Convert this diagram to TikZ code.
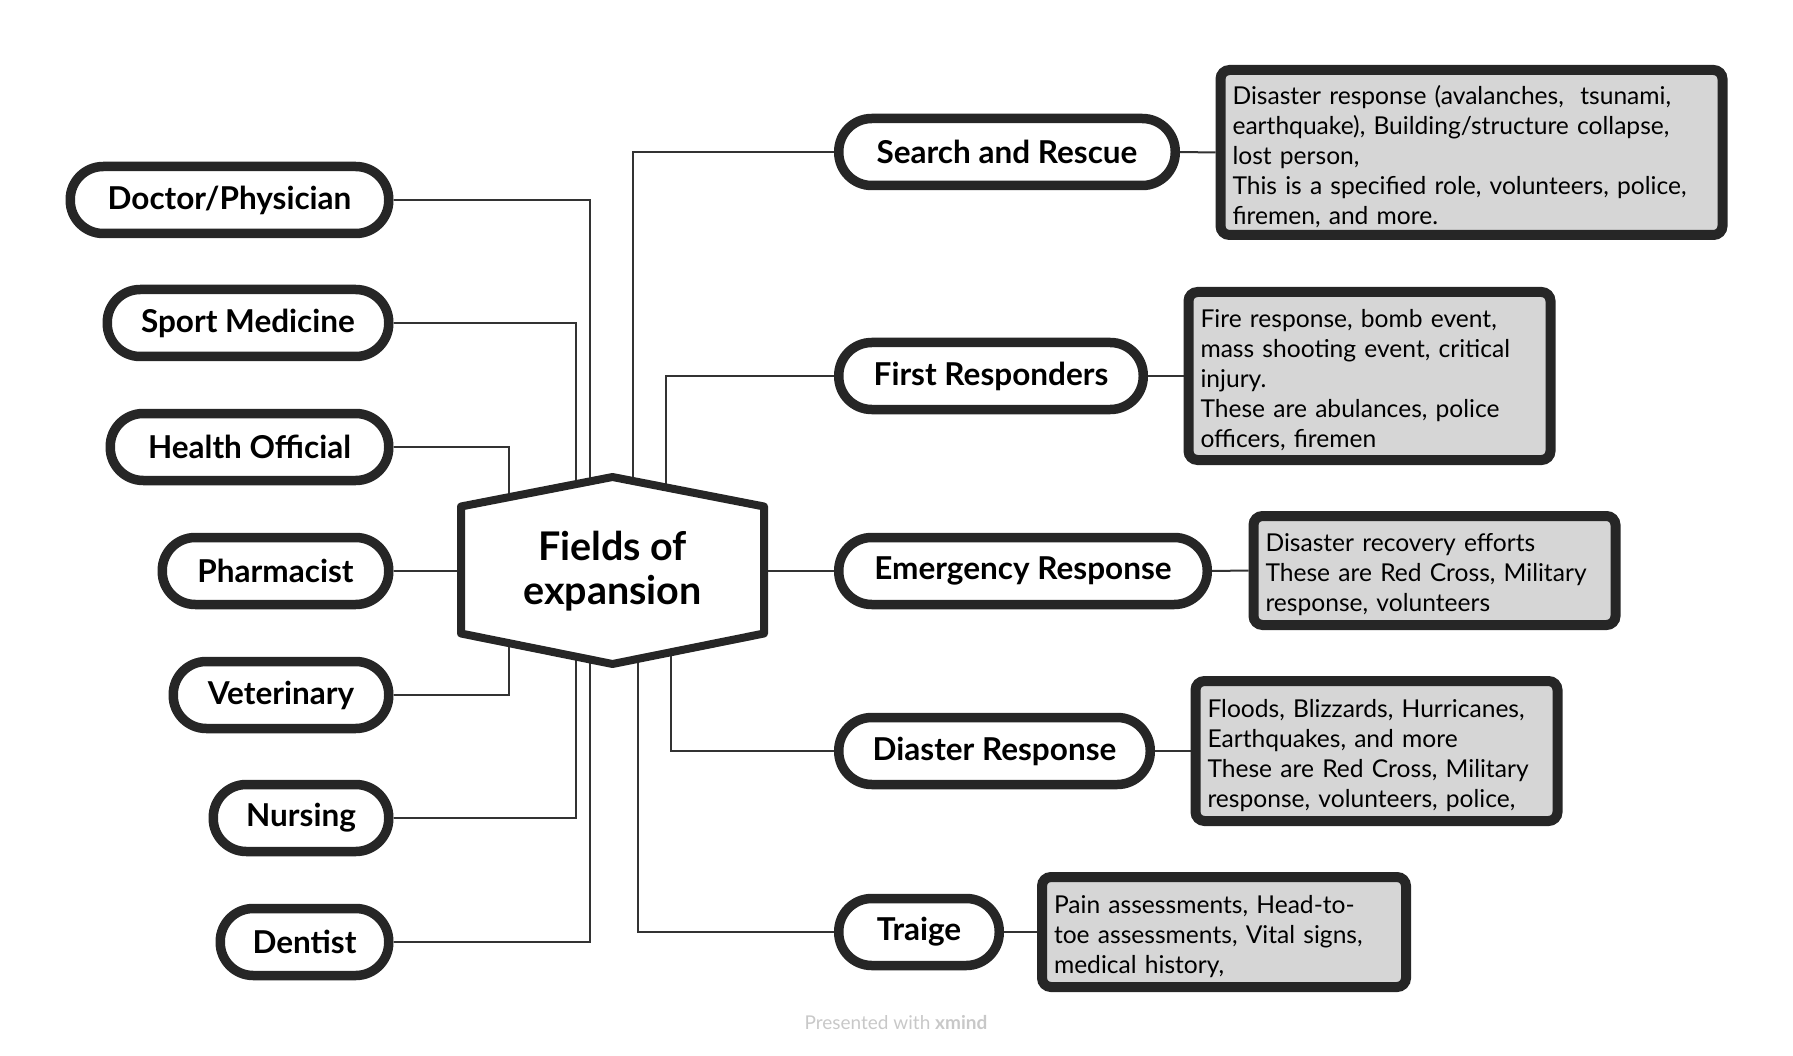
\documentclass[tikz,border=0pt]{standalone}
\usepackage{fontspec}
\setmainfont{Lato}
\usetikzlibrary{calc}
\definecolor{ink}{HTML}{262626}
\definecolor{wire}{HTML}{333333}
\definecolor{note}{HTML}{D6D6D6}
\definecolor{faint}{HTML}{C8C8C8}
\pgfdeclarelayer{bg}
\pgfsetlayers{bg,main}
\tikzset{
  pill/.style={draw=ink, fill=white, line width=9.5pt, rounded corners=33pt,
    minimum height=67pt, inner sep=0pt, font=\fontsize{31.5}{36}\selectfont\bfseries},
  notebox/.style={draw=ink, fill=note, line width=10pt, rounded corners=9pt,
    anchor=west, align=left, inner xsep=12pt, inner ysep=0pt,
    font=\fontsize{24.6}{30}\selectfont, execute at begin node={\rule{0pt}{27pt}}},
  link/.style={draw=wire, line width=2pt},
  hexa/.style={draw=ink, fill=white, line width=8pt, line join=round},
  hubtext/.style={align=center, font=\fontsize{39.5}{44}\selectfont\bfseries},
}

\begin{document}
\begin{tikzpicture}[x=1pt, y=-1pt]
  \useasboundingbox (0,0) rectangle (1793,1056);

  % centre
  \node[hubtext] (hub) at (612.5,571) {Fields of\\expansion};

  % left branch
  \node[pill, minimum width=318.5pt, anchor=east] (doc)    at (393.5,200) {Doctor/Physician};
  \node[pill, minimum width=281.5pt, anchor=east] (sport)  at (393.5,323) {Sport Medicine};
  \node[pill, minimum width=278.5pt, anchor=east] (health) at (393.5,447) {Health Official};
  \node[pill, minimum width=226.5pt, anchor=east] (pharm)  at (393.5,571) {Pharmacist};
  \node[pill, minimum width=215.5pt, anchor=east] (vet)    at (393.5,695) {Veterinary};
  \node[pill, minimum width=175.5pt, anchor=east] (nurse)  at (393.5,818) {Nursing};
  \node[pill, minimum width=168.5pt, anchor=east] (dent)   at (393.5,942) {Dentist};

  % right branch
  \node[pill, minimum width=336.5pt, anchor=west] (search) at (834,152) {Search and Rescue};
  \node[pill, minimum width=304.5pt, anchor=west] (first)  at (834,376) {First Responders};
  \node[pill, minimum width=368.5pt, anchor=west] (emerg)  at (834,571) {Emergency Response};
  \node[pill, minimum width=311.5pt, anchor=west] (disas)  at (834,751) {Diaster Response};
  \node[pill, minimum width=160.5pt, anchor=west] (triage) at (834,932) {Traige};

  % notes
  \node[notebox, text width=478pt, minimum height=165pt] (searchnote) at (1215.5,152.5)
    {Disaster response (avalanches,~ tsunami,\\earthquake), Building/structure collapse,\\lost person,\\This is a specified role, volunteers, police,\\firemen, and more.};
  \node[notebox, text width=338pt, minimum height=168pt] (firstnote) at (1183.5,376)
    {Fire response, bomb event,\\mass shooting event, critical\\injury.\\These are abulances, police\\officers, firemen};
  \node[notebox, text width=338pt, minimum height=109pt] (emergnote) at (1248.5,570.5)
    {Disaster recovery efforts\\These are Red Cross, Military\\response, volunteers};
  \node[notebox, text width=338pt, minimum height=140pt] (disasnote) at (1190.5,751)
    {Floods, Blizzards, Hurricanes,\\Earthquakes, and more\\These are Red Cross, Military\\response, volunteers, police,};
  \node[notebox, text width=340pt, minimum height=110pt] (triagenote) at (1037,932)
    {Pain assessments, Head-to-\\toe assessments, Vital signs,\\medical history,};

  \node[text=faint, font=\fontsize{19}{22}\selectfont] (credit) at (896,1023)
    {Presented with \textbf{xmind}};

  \begin{pgfonlayer}{bg}
    \draw[link] (doc.east)    -| ($(hub.center)+(-22.5,0)$);
    \draw[link] (sport.east)  -| ($(hub.center)+(-36.5,0)$);
    \draw[link] (health.east) -| ($(hub.center)+(-103.5,0)$);
    \draw[link] (pharm.east)  -- (hub.center);
    \draw[link] (vet.east)    -| ($(hub.center)+(-103.5,0)$);
    \draw[link] (nurse.east)  -| ($(hub.center)+(-36.5,0)$);
    \draw[link] (dent.east)   -| ($(hub.center)+(-22.5,0)$);

    \draw[link] (search.west) -| ($(hub.center)+(20.5,0)$);
    \draw[link] (first.west)  -| ($(hub.center)+(53.5,0)$);
    \draw[link] (emerg.west)  -- (hub.center);
    \draw[link] (disas.west)  -| ($(hub.center)+(58.5,0)$);
    \draw[link] (triage.west) -| ($(hub.center)+(25.5,0)$);

    \foreach \a in {search,first,emerg,disas,triage}
      \draw[link] (\a.east) -- (\a note.west);

    % hexagon over the inner ends of the links
    \draw[hexa] ($(hub.center)+(0,-94)$) -- ($(hub.center)+(151.5,-64.5)$)
      -- ($(hub.center)+(151.5,62.5)$) -- ($(hub.center)+(0,93)$)
      -- ($(hub.center)+(-151.5,62.5)$) -- ($(hub.center)+(-151.5,-64.5)$) -- cycle;
  \end{pgfonlayer}
\end{tikzpicture}
\end{document}
